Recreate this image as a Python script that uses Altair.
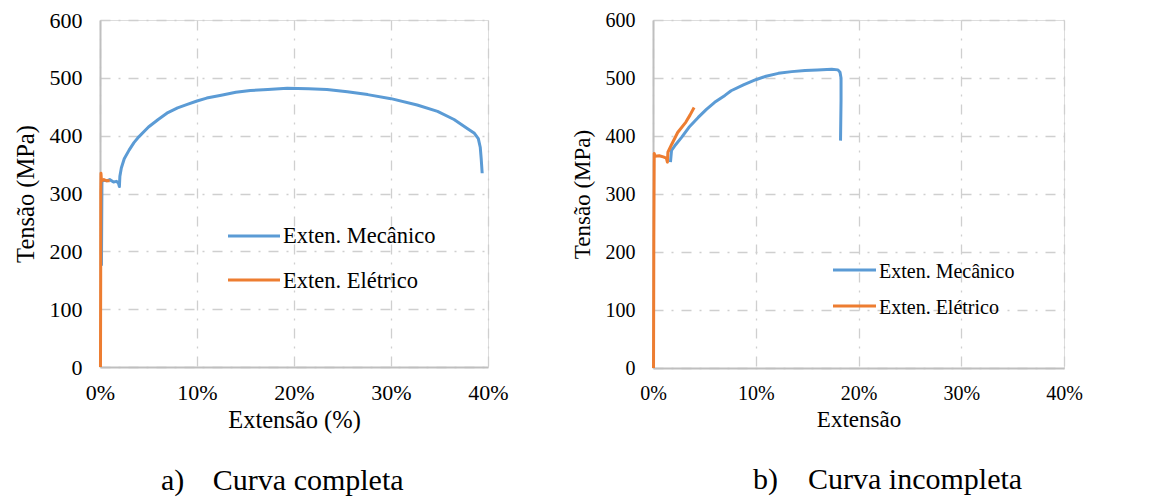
import altair as alt
import pandas as pd

BLUE = "#5B9BD5"
ORANGE = "#ED7D31"
FONT = "Times New Roman, Liberation Serif, DejaVu Serif, serif"
SERIES = ["Exten. Mecânico", "Exten. Elétrico"]
X_TICKS = [0, 0.1, 0.2, 0.3, 0.4]
Y_TICKS = [0, 100, 200, 300, 400, 500, 600]

# a) Curva completa  (extension in %, stress in MPa)
a_mec_x = [0.15, 0.2, 0.3, 0.7, 1.0, 1.4, 1.7, 1.9, 2.0, 2.05, 2.2, 2.5, 3.0, 3.5, 4.0, 5.0,
           6.0, 7.0, 8.0, 9.0, 10.0, 11.0, 12.5, 14.0, 15.5, 17.3, 19.3, 21.5, 23.4, 25.5,
           27.6, 30.0, 32.7, 34.8, 36.5, 37.9, 38.6, 39.0, 39.2, 39.3, 39.4]
a_mec_y = [175, 320, 323, 322, 324, 320, 321, 318, 312, 330, 344, 360, 375, 388, 398, 415,
           428, 440, 448, 454, 460, 465, 470, 475, 478, 480, 482, 481, 480, 476,
           471, 464, 453, 442, 428, 412, 404, 395, 380, 360, 335]
a_ele_x = [0.05, 0.07, 0.08, 0.1, 0.15, 0.4, 0.7, 1.0]
a_ele_y = [0, 150, 300, 335, 322, 324, 322, 322]

# b) Curva incompleta
b_mec_x = [1.7, 1.8, 2.2, 2.8, 3.5, 4.4, 5.2, 6.0, 7.0, 7.6, 8.8, 10.0, 11.0, 12.2, 13.5,
           14.8, 16.0, 17.4, 18.0, 18.2, 18.3, 18.3, 18.25]
b_mec_y = [355, 375, 385, 398, 415, 432, 446, 458, 470, 478, 488, 497, 503, 508, 511,
           513, 514, 515, 514, 510, 500, 461, 392]
b_ele_x = [0.05, 0.08, 0.1, 0.12, 0.2, 0.6, 1.0, 1.3, 1.4, 1.45, 1.8, 2.4, 3.2, 3.6, 4.0]
b_ele_y = [0, 220, 300, 370, 365, 366, 364, 362, 355, 372, 385, 406, 424, 436, 449]


def frame(xs, ys):
    return pd.DataFrame({"x": [v / 100 for v in xs], "y": ys, "i": list(range(len(xs)))})


def panel(mec, ele, w, h, xtitle, caption, tick_fs, title_fs, leg_fs,
          leg_x0, leg_x1, leg_rows, leg_text_rows, cap_dx):
    grid = dict(grid=True, gridColor="#CFCFCF", gridWidth=1.3, gridDash=[10, 8, 2, 8],
                domainColor="#BFBFBF", domainWidth=2, ticks=False, labelFlush=False,
                labelFont=FONT, labelFontSize=tick_fs, labelColor="#000000",
                titleFont=FONT, titleFontSize=title_fs, titleFontWeight="normal",
                titleColor="#000000")
    xenc = alt.X("x:Q", scale=alt.Scale(domain=[0, 0.4], nice=False),
                 axis=alt.Axis(format=".0%", values=X_TICKS, title=xtitle,
                               labelPadding=15, titlePadding=5, **grid))
    yenc = alt.Y("y:Q", scale=alt.Scale(domain=[0, 600], nice=False),
                 axis=alt.Axis(values=Y_TICKS, title="Tensão (MPa)",
                               labelPadding=18, titlePadding=11, **grid))
    l1 = alt.Chart(mec).mark_line(color=BLUE, strokeWidth=3, strokeJoin="round").encode(
        x=xenc, y=yenc, order="i:Q")
    l2 = alt.Chart(ele).mark_line(color=ORANGE, strokeWidth=3, strokeJoin="round").encode(
        x=xenc, y=yenc, order="i:Q")
    layers = [l1, l2]
    for name, col, ry, ty in zip(SERIES, [BLUE, ORANGE], leg_rows, leg_text_rows):
        d = alt.Data(values=[{"t": name}])
        layers.append(alt.Chart(d).mark_rule(color=col, strokeWidth=3).encode(
            x=alt.value(leg_x0), x2=alt.value(leg_x1), y=alt.value(ry)))
        layers.append(alt.Chart(d).mark_text(align="left", baseline="alphabetic", font=FONT,
                                              fontSize=leg_fs, color="#000000").encode(
            x=alt.value(leg_x1 + 3), y=alt.value(ty), text="t:N"))
    return alt.layer(*layers).properties(
        width=w, height=h,
        title=alt.TitleParams(caption, orient="bottom", anchor="start", frame="group",
                              dx=cap_dx, offset=34,
                              font=FONT, fontSize=30, fontWeight="normal", color="#000000"))


left = panel(frame(a_mec_x, a_mec_y), frame(a_ele_x, a_ele_y), 388, 347, "Extensão (%)",
             "a)\u00a0\u00a0\u00a0\u2009Curva completa", 22, 24.5, 22.5,
             128, 180, [216, 260], [223, 268], 61)
right = panel(frame(b_mec_x, b_mec_y), frame(b_ele_x, b_ele_y), 411, 348, "Extensão",
              "b)\u00a0\u00a0\u00a0\u00a0Curva incompleta", 20, 23, 20,
              180, 223, [250, 286], [258, 294], 100)

chart = alt.hconcat(left, right, spacing=165, bounds="flush").properties(
    padding={"left": 12, "top": 8, "right": 5, "bottom": 5}
).configure_view(stroke=None).configure(background="#FFFFFF")

chart.save("out.html", embed_options={"renderer": "svg", "actions": False})
